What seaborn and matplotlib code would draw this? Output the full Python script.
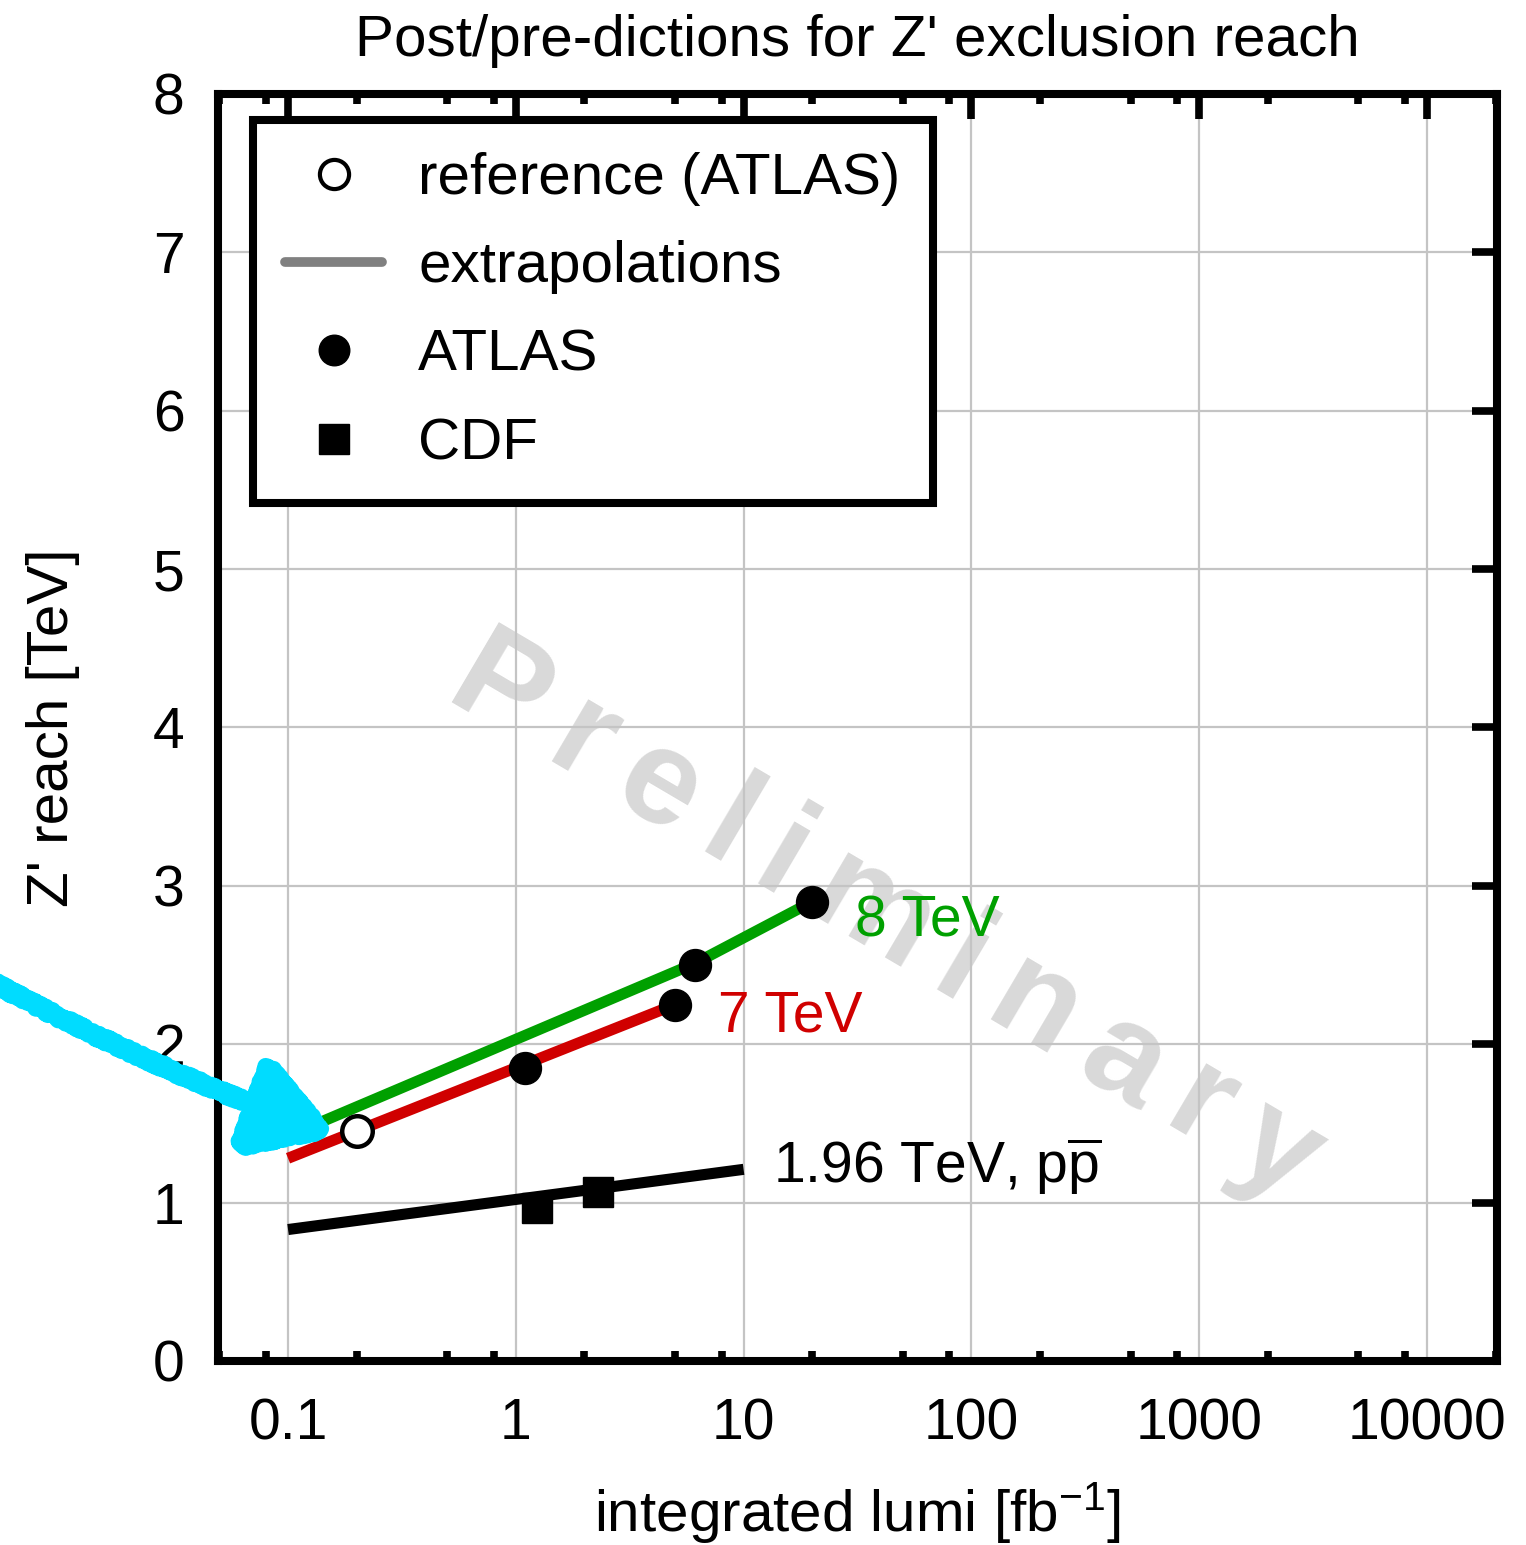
import numpy as np
import pandas as pd
import seaborn as sns
import matplotlib
matplotlib.use("Agg")
import matplotlib.pyplot as plt
from matplotlib.lines import Line2D
from matplotlib.patches import FancyArrowPatch, ArrowStyle
from matplotlib.ticker import LogLocator, FixedLocator, NullFormatter, FixedFormatter
from matplotlib.font_manager import FontProperties, findfont, get_font

# ---------------- data ----------------
lumi_8tev = [0.13, 6.1, 20.0]
reach_8tev = [1.49, 2.51, 2.90]
lumi_7tev = [0.1, 5.0]
reach_7tev = [1.28, 2.25]
lumi_tevatron = [0.1, 10.0]
reach_tevatron = [0.83, 1.21]

atlas_lumi = [1.1, 5.0, 6.1, 20.0]
atlas_reach = [1.85, 2.25, 2.50, 2.90]
ref_lumi = [0.2]
ref_reach = [1.45]
cdf_lumi = [1.24, 2.29]
cdf_reach = [0.966, 1.07]

xtick_vals = [0.1, 1, 10, 100, 1000, 10000]
xtick_labels = ["0.1", "1", "10", "100", "1000", "10000"]
ytick_vals = [0, 1, 2, 3, 4, 5, 6, 7, 8]

legend_labels = ["reference (ATLAS)", "extrapolations", "ATLAS", "CDF"]
watermark = "Preliminary"

# ---------------- style ----------------
sns.set_theme(style="white")
plt.rcParams["font.family"] = ["Liberation Sans", "DejaVu Sans"]
plt.rcParams["mathtext.fontset"] = "custom"
plt.rcParams["mathtext.rm"] = "Liberation Sans"
plt.rcParams["mathtext.it"] = "Liberation Sans:italic"
plt.rcParams["mathtext.bf"] = "Liberation Sans:bold"
for k in ["text.color", "axes.labelcolor", "xtick.color", "ytick.color"]:
    plt.rcParams[k] = "black"

GREEN = "#00a000"
RED = "#d00000"
FS = 41
W, H, DPI = 1526, 1545, 100

fig = plt.figure(figsize=(W / DPI, H / DPI), dpi=DPI)
ax = fig.add_axes([0.1429, 0.1191, 0.8381, 0.8201])
ax.set_xscale("log")
ax.set_xlim(0.0493, 20300)
ax.set_ylim(0, 8)

# lines
df8 = pd.DataFrame({"lumi": lumi_8tev, "reach": reach_8tev})
df7 = pd.DataFrame({"lumi": lumi_7tev, "reach": reach_7tev})
dft = pd.DataFrame({"lumi": lumi_tevatron, "reach": reach_tevatron})
lw = 8
sns.lineplot(data=dft, x="lumi", y="reach", ax=ax, color="black", lw=lw,
             solid_capstyle="butt", zorder=3, sort=False)
sns.lineplot(data=df7, x="lumi", y="reach", ax=ax, color=RED, lw=lw,
             solid_capstyle="butt", zorder=3, sort=False)
sns.lineplot(data=df8, x="lumi", y="reach", ax=ax, color=GREEN, lw=lw,
             solid_capstyle="butt", zorder=3, sort=False)

# markers
ax.plot(cdf_lumi, cdf_reach, ls="none", marker="s", ms=22, color="black", zorder=4)
ax.plot(atlas_lumi, atlas_reach, ls="none", marker="o", ms=23, color="black", zorder=4)
ax.plot(ref_lumi, ref_reach, ls="none", marker="o", ms=22, mfc="white",
        mec="black", mew=3.2, zorder=4)

# labels next to lines
ax.text(30.7, 2.68, "8 TeV", color=GREEN, fontsize=FS, va="baseline", ha="left", zorder=4)
ax.text(7.7, 2.08, "7 TeV", color=RED, fontsize=FS, va="baseline", ha="left", zorder=4)
ax.text(13.4, 1.12, r"1.96 TeV, p$\overline{\mathrm{p}}$", color="black",
        fontsize=FS, va="baseline", ha="left", zorder=4)

# watermark: letter-spaced, rotated
wm_size = 98
wm_angle = -30.5
prop = FontProperties(family="Liberation Sans", weight="bold", size=wm_size)
ftfont = get_font(findfont(prop))
ftfont.set_size(wm_size, DPI)
gap = 0.18 * wm_size / 72 * DPI
ux, uy = np.cos(np.radians(wm_angle)), np.sin(np.radians(wm_angle))
px, py = 442.0, H - 702.0
for ch in watermark:
    g = ftfont.load_char(ord(ch))
    adv = g.linearHoriAdvance / 65536.0
    ax.text(px / W, py / H, ch, transform=fig.transFigure, rotation=wm_angle,
            rotation_mode="anchor", ha="left", va="baseline",
            fontproperties=prop, color="#d9d9d9", zorder=0.3)
    px += (adv + gap) * ux
    py += (adv + gap) * uy

# axes styling
ax.set_axisbelow(True)
ax.xaxis.set_major_locator(FixedLocator(xtick_vals))
ax.xaxis.set_major_formatter(FixedFormatter(xtick_labels))
ax.xaxis.set_minor_locator(LogLocator(base=10, subs=[2, 5, 8], numticks=20))
ax.xaxis.set_minor_formatter(NullFormatter())
ax.yaxis.set_major_locator(FixedLocator(ytick_vals))
ax.grid(True, which="major", color="#c4c4c4", lw=1.6)
ax.grid(False, which="minor")
for s in ax.spines.values():
    s.set_visible(True)
    s.set_linewidth(5.8)
    s.set_color("black")
    s.set_zorder(5)
ax.tick_params(which="major", direction="in", length=18, width=5.5, top=True,
               right=True, labelsize=FS, colors="black")
ax.tick_params(axis="x", which="major", pad=26)
ax.tick_params(axis="y", which="major", pad=24)
ax.tick_params(which="minor", direction="in", length=7.5, width=5.5, top=True,
               bottom=True, colors="black")
ax.tick_params(axis="y", which="minor", left=False, right=False)

ax.set_title("Post/pre-dictions for Z' exclusion reach", fontsize=42, pad=27, color="black")
ax.set_xlabel(r"integrated lumi [fb$^{\mathrm{-1}}$]", fontsize=42, color="black")
ax.set_ylabel("Z' reach [TeV]", fontsize=42, color="black")
ax.xaxis.set_label_coords(0.5, -0.094)
ax.yaxis.set_label_coords(-0.108, 0.5)

# legend
handles = [
    Line2D([], [], ls="none", marker="o", ms=21, mfc="white", mec="black", mew=3),
    Line2D([], [], color="#808080", lw=7),
    Line2D([], [], ls="none", marker="o", ms=22, color="black"),
    Line2D([], [], ls="none", marker="s", ms=21, color="black"),
]
leg = ax.legend(handles, legend_labels, loc="upper left", bbox_to_anchor=(0.0274, 0.9795),
                borderaxespad=0, frameon=True, fancybox=False, edgecolor="black",
                framealpha=1, fontsize=42, handlelength=1.66, handletextpad=0.62,
                borderpad=0.55, labelspacing=0.59)
leg.get_frame().set_linewidth(5.8)
for t in leg.get_texts():
    t.set_color("black")
leg.set_zorder(6)

# hand-drawn cyan arrow
arrow = FancyArrowPatch((-0.005, 1 - 982 / H), (335 / W, 1 - 1135 / H),
                        transform=fig.transFigure,
                        arrowstyle=ArrowStyle("-|>", head_length=0.5, head_width=0.3),
                        mutation_scale=100, lw=12, color="#00dcff",
                        connectionstyle="arc3,rad=0.04", shrinkA=0, shrinkB=0, zorder=10)
arrow.set_sketch_params(scale=3, length=6, randomness=4)
fig.add_artist(arrow)

fig.savefig("out.png", dpi=DPI)
